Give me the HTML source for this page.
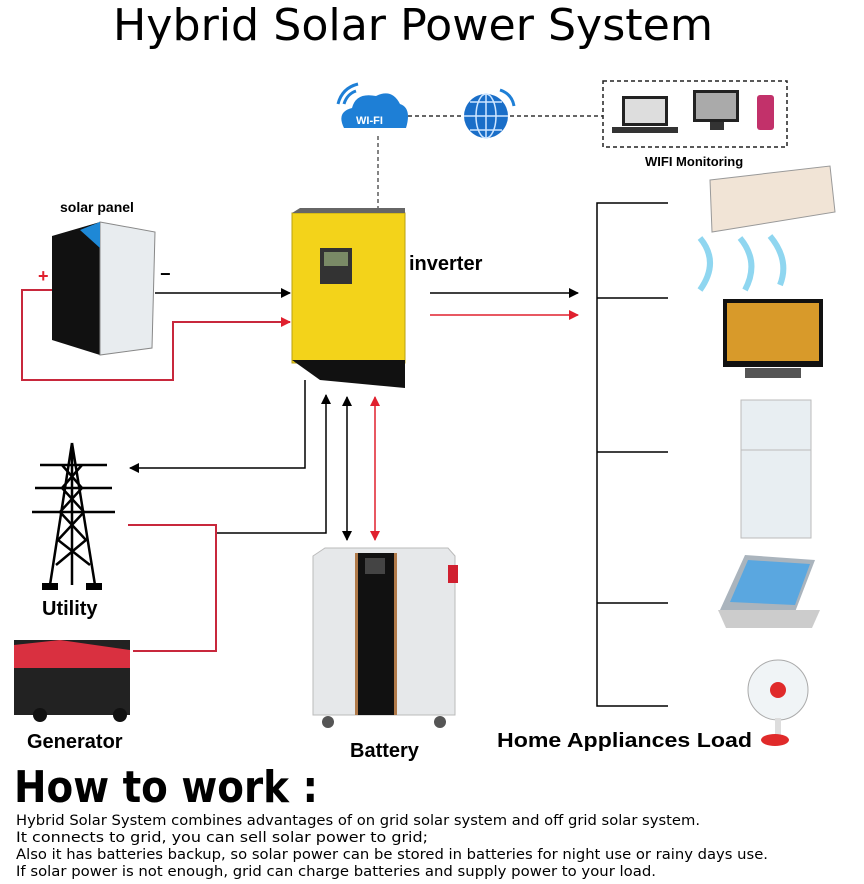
<!DOCTYPE html>
<html><head><meta charset="utf-8"><style>html,body{margin:0;padding:0;background:#fff}svg{display:block}</style></head>
<body>
<svg width="864" height="884" viewBox="0 0 864 884" xmlns="http://www.w3.org/2000/svg" font-family="Liberation Sans, sans-serif">
<defs>
<marker id="ab" markerWidth="10" markerHeight="10" refX="9" refY="5" orient="auto" markerUnits="userSpaceOnUse"><path d="M0,0 L10,5 L0,10 Z" fill="#000"/></marker>
<marker id="ar" markerWidth="10" markerHeight="10" refX="9" refY="5" orient="auto" markerUnits="userSpaceOnUse"><path d="M0,0 L10,5 L0,10 Z" fill="#e0202e"/></marker>
<marker id="abs" markerWidth="10" markerHeight="10" refX="1" refY="5" orient="auto" markerUnits="userSpaceOnUse"><path d="M10,0 L0,5 L10,10 Z" fill="#000"/></marker>
<marker id="ars" markerWidth="10" markerHeight="10" refX="1" refY="5" orient="auto" markerUnits="userSpaceOnUse"><path d="M10,0 L0,5 L10,10 Z" fill="#e0202e"/></marker>
</defs>
<text x="113" y="40" font-family="DejaVu Sans, sans-serif" font-size="44" textLength="600" lengthAdjust="spacingAndGlyphs">Hybrid Solar Power System</text>

<!-- wifi cloud -->
<path d="M344,128 Q336,112 352,108 Q356,92 376,96 Q392,88 400,104 Q412,108 406,128 Z" fill="#1e7fd6"/>
<text x="356" y="124" font-size="11" font-weight="bold" fill="#fff">WI-FI</text>
<path d="M338,104 Q342,88 358,84" stroke="#1e7fd6" stroke-width="3" fill="none"/>
<path d="M344,104 Q347,94 356,91" stroke="#1e7fd6" stroke-width="3" fill="none"/>
<circle cx="486" cy="116" r="22" fill="#1a6ec8"/>
<path d="M464,116 H508 M486,94 V138 M470,102 H502 M470,130 H502" stroke="#cfe6ff" stroke-width="1.5"/>
<ellipse cx="486" cy="116" rx="10" ry="22" stroke="#cfe6ff" stroke-width="1.5" fill="none"/>
<path d="M500,90 Q512,94 514,106" stroke="#1e7fd6" stroke-width="3" fill="none"/>
<path d="M408,116 H462 M510,116 H603" stroke="#333" stroke-width="1.5" stroke-dasharray="4,3"/>
<path d="M378,136 V212" stroke="#333" stroke-width="1.2" stroke-dasharray="4,3"/>
<rect x="603" y="81" width="184" height="66" fill="none" stroke="#222" stroke-width="1.5" stroke-dasharray="4,3"/>
<rect x="622" y="96" width="46" height="30" fill="#222"/><rect x="625" y="99" width="40" height="24" fill="#ddd"/><rect x="612" y="127" width="66" height="6" fill="#333"/>
<rect x="693" y="90" width="46" height="32" fill="#222"/><rect x="696" y="93" width="40" height="26" fill="#aaa"/><rect x="710" y="122" width="14" height="8" fill="#333"/>
<rect x="757" y="95" width="17" height="35" rx="3" fill="#c2316a"/>
<text x="645" y="166" font-size="13" font-weight="bold">WIFI Monitoring</text>

<!-- solar panel -->
<text x="60" y="212" font-size="14" font-weight="bold">solar panel</text>
<path d="M52,236 L100,222 L100,355 L52,340 Z" fill="#111"/>
<path d="M100,222 L155,232 L152,348 L100,355 Z" fill="#e8ecef" stroke="#888"/>
<path d="M80,230 L100,222 L100,248 Z" fill="#1e88d6"/>
<text x="38" y="282" font-size="18" font-weight="bold" fill="#e0202e">+</text>
<text x="160" y="280" font-size="18" font-weight="bold">−</text>
<path d="M155,293 H290" stroke="#000" stroke-width="1.5" marker-end="url(#ab)"/>
<path d="M52,290 H22 V380 H173 V322 H290" stroke="#c8283c" stroke-width="2" fill="none" marker-end="url(#ar)"/>

<!-- inverter -->
<rect x="292" y="213" width="113" height="150" fill="#f3d31a" stroke="#b9a010"/>
<path d="M292,213 L300,208 H405 L405,213 Z" fill="#666"/>
<rect x="320" y="248" width="32" height="36" fill="#333"/>
<rect x="324" y="252" width="24" height="14" fill="#7a8a66"/>
<path d="M292,360 H405 V388 L320,380 Z" fill="#111"/>
<text x="409" y="270" font-size="20" font-weight="bold">inverter</text>
<path d="M430,293 H578" stroke="#000" stroke-width="1.5" marker-end="url(#ab)"/>
<path d="M430,315 H578" stroke="#e0202e" stroke-width="1.5" marker-end="url(#ar)"/>

<!-- bracket -->
<path d="M668,203 H597 V706 H668 M597,298 H668 M597,452 H668 M597,603 H668" stroke="#000" stroke-width="1.5" fill="none"/>

<!-- appliances -->
<path d="M710,180 L830,166 L835,212 L712,232 Z" fill="#f1e4d6" stroke="#999"/>
<path d="M700,238 Q720,262 700,290 M740,238 Q760,262 745,290 M770,236 Q790,260 780,285" stroke="#8fd6f0" stroke-width="6" fill="none"/>
<rect x="723" y="299" width="100" height="68" fill="#111"/>
<rect x="727" y="303" width="92" height="58" fill="#d89a2a"/>
<rect x="745" y="368" width="56" height="10" fill="#555"/>
<rect x="741" y="400" width="70" height="138" fill="#e8eef2" stroke="#bbb"/>
<path d="M741,450 H811" stroke="#bbb"/>
<path d="M720,610 L745,555 L815,560 L795,612 Z" fill="#aab4bd"/>
<path d="M748,560 L810,564 L795,605 L730,602 Z" fill="#5aa7e0"/>
<path d="M718,610 H820 L812,628 H726 Z" fill="#ccc"/>
<circle cx="778" cy="690" r="30" fill="#f0f4f6" stroke="#aaa"/>
<circle cx="778" cy="690" r="8" fill="#e02a2a"/>
<rect x="775" y="718" width="6" height="22" fill="#ddd"/>
<ellipse cx="775" cy="740" rx="14" ry="6" fill="#e02a2a"/>

<!-- utility connectors -->
<path d="M305,380 V468 H130" stroke="#000" stroke-width="1.5" fill="none" marker-end="url(#ab)"/>
<path d="M216,533 H326 V395" stroke="#000" stroke-width="1.5" fill="none" marker-end="url(#ab)"/>
<path d="M347,397 V540" stroke="#000" stroke-width="1.5" marker-start="url(#abs)" marker-end="url(#ab)"/>
<path d="M375,397 V540" stroke="#e0202e" stroke-width="1.5" marker-start="url(#ars)" marker-end="url(#ar)"/>
<path d="M128,525 H216 V651 H133" stroke="#c8283c" stroke-width="2" fill="none"/>

<!-- tower -->
<g stroke="#000" stroke-width="2.5" fill="none">
<path d="M72,443 L50,585 M72,443 L95,585 M72,443 L72,585"/>
<path d="M40,465 H107 M35,488 H112 M32,512 H115"/>
<path d="M62,465 L82,488 L60,512 L86,540 L56,565 M82,465 L62,488 L84,512 L58,540 L90,565"/>
</g>
<rect x="42" y="583" width="16" height="7" fill="#000"/><rect x="86" y="583" width="16" height="7" fill="#000"/>
<text x="42" y="615" font-size="20" font-weight="bold">Utility</text>

<!-- generator -->
<rect x="14" y="640" width="116" height="75" fill="#222"/>
<path d="M14,645 L60,640 L130,650 L130,668 L14,668 Z" fill="#d93040"/>
<circle cx="40" cy="715" r="7" fill="#111"/><circle cx="120" cy="715" r="7" fill="#111"/>
<text x="27" y="748" font-size="20" font-weight="bold">Generator</text>

<!-- battery -->
<path d="M313,556 L325,548 H448 L455,556 V715 H313 Z" fill="#e6e8ea" stroke="#bbb"/>
<rect x="357" y="553" width="38" height="162" fill="#111"/>
<rect x="355" y="553" width="3" height="162" fill="#b07a4a"/><rect x="394" y="553" width="3" height="162" fill="#b07a4a"/>
<rect x="365" y="558" width="20" height="16" fill="#444"/>
<rect x="448" y="565" width="10" height="18" fill="#d02030"/>
<circle cx="328" cy="722" r="6" fill="#555"/><circle cx="440" cy="722" r="6" fill="#555"/>
<text x="350" y="757" font-size="20" font-weight="bold">Battery</text>

<text x="497" y="747" font-size="20" font-weight="bold" textLength="255" lengthAdjust="spacingAndGlyphs">Home Appliances Load</text>

<text x="14" y="802" font-family="DejaVu Sans, sans-serif" font-size="44" font-weight="bold" textLength="304" lengthAdjust="spacingAndGlyphs">How to work :</text>
<g font-family="DejaVu Sans, sans-serif" font-size="14">
<text x="16" y="825" textLength="684" lengthAdjust="spacingAndGlyphs">Hybrid Solar System combines advantages of on grid solar system and off grid solar system.</text>
<text x="16" y="842" textLength="412" lengthAdjust="spacingAndGlyphs">It connects to grid, you can sell solar power to grid;</text>
<text x="16" y="859" textLength="752" lengthAdjust="spacingAndGlyphs">Also it has batteries backup, so solar power can be stored in batteries for night use or rainy days use.</text>
<text x="16" y="876" textLength="640" lengthAdjust="spacingAndGlyphs">If solar power is not enough, grid can charge batteries and supply power to your load.</text>
</g>
</svg>
</body></html>
